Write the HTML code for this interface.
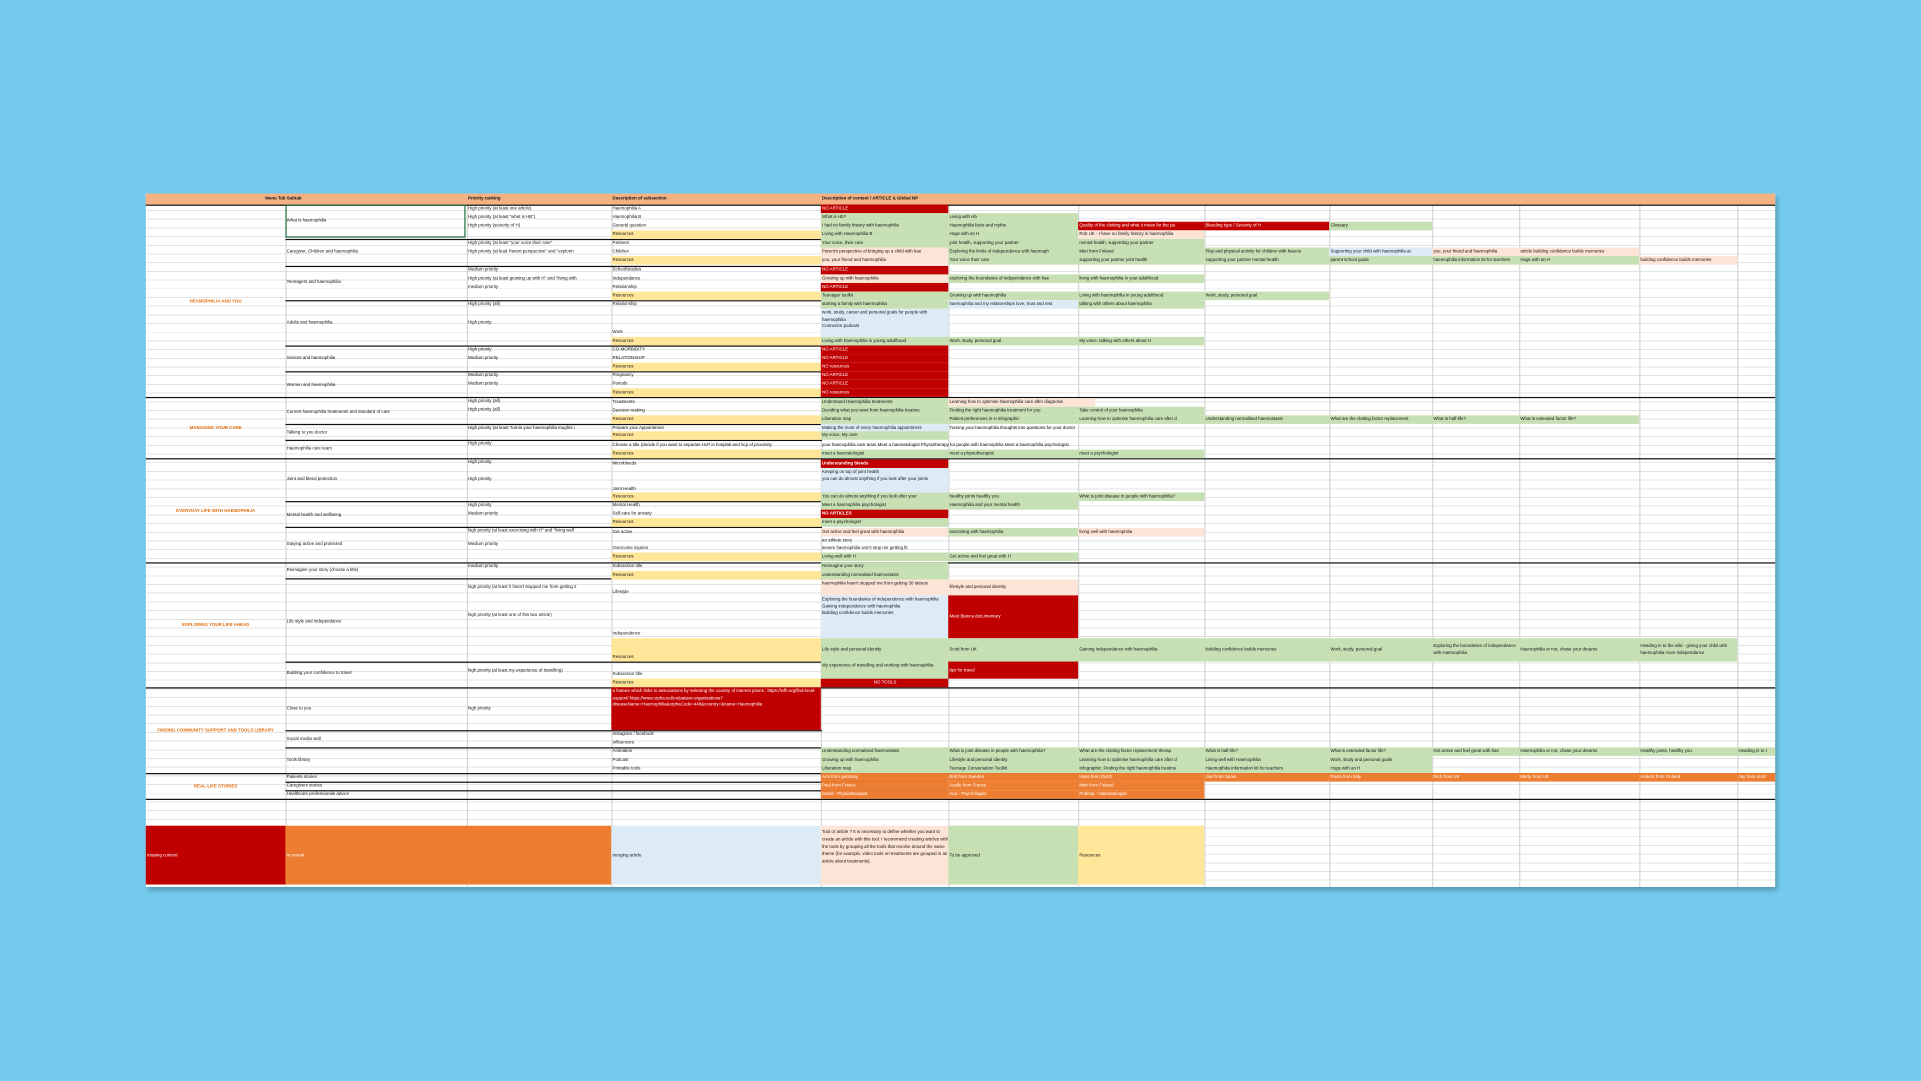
<!DOCTYPE html>
<html><head><meta charset="utf-8"><style>
html,body{margin:0;padding:0;background:#74cbee;width:1921px;height:1081px;overflow:hidden}
#w{position:absolute;left:0;top:0;width:1568px;height:882px;transform:scale(1.2251);transform-origin:0 0}
#sh{position:absolute;left:119px;top:158px;width:1330px;height:566px;background:#fff;box-shadow:2px 3px 4px rgba(0,0,0,.25);
background-image:repeating-linear-gradient(to bottom,transparent 0,transparent 6.3px,#e3e3e3 6.3px,#e3e3e3 7.1px)}
.v{position:absolute;top:158px;height:566px;width:0.6px;background:#d6d6d6}
.c{position:absolute;font-family:"Liberation Sans",sans-serif;font-size:3.6px;line-height:7px;height:7px;overflow:hidden;white-space:nowrap;padding-left:1px;box-sizing:border-box;color:#111}
.A{left:119px;width:114px}.B{left:233px;width:148px}.C{left:381px;width:118px}.D{left:499px;width:171px}
.E{left:670px;width:104px}.F{left:774px;width:106px}.G{left:880px;width:103px}.H{left:983px;width:102px}
.I{left:1085px;width:84px}.J{left:1169px;width:71px}.K{left:1240px;width:98px}.L{left:1338px;width:80px}.M{left:1418px;width:31px}
.r{background:#c00000;color:#fff}.g{background:#c6e0b4}.p{background:#fce4d6}.b{background:#ddebf7}.y{background:#ffe699}.o{background:#ed7d31;color:#fff}
.sec{color:#e26b0a;font-weight:bold;text-align:center;white-space:normal;line-height:6px;display:flex;align-items:center;justify-content:center;padding:0 4px}
.hl{position:absolute;left:119px;width:1330px;height:1.3px;background:#111}
.hb{position:absolute;height:1px;background:#111}
.ml{white-space:normal;line-height:5.6px;padding-top:1px}
</style></head><body><div id="w">
<div id="sh"></div>
<div class="v" style="left:233px"></div><div class="v" style="left:381px"></div><div class="v" style="left:499px"></div><div class="v" style="left:670px"></div><div class="v" style="left:774px"></div><div class="v" style="left:880px"></div><div class="v" style="left:983px"></div><div class="v" style="left:1085px"></div><div class="v" style="left:1169px"></div><div class="v" style="left:1240px"></div><div class="v" style="left:1338px"></div><div class="v" style="left:1418px"></div>

<!-- header -->
<div class="c" style="left:119px;top:158px;width:1330px;height:9px;background:#f4b183"></div>
<div class="c A" style="top:159px;text-align:right;font-weight:bold">Menu Tab</div>
<div class="c B" style="top:159px;font-weight:bold">Subtab</div>
<div class="c C" style="top:159px;font-weight:bold">Priority ranking</div>
<div class="c D" style="top:159px;font-weight:bold">Description of subsection</div>
<div class="c E" style="top:159px;width:200px;font-weight:bold">Description of content / ARTICLE &amp; Global NP</div>
<div class="hl" style="top:166.5px"></div>

<!-- Section A labels -->
<div class="c A sec" style="top:167px;height:157px">HEAMOPHILIA AND YOU</div>
<div class="c A sec" style="top:324px;height:50px">MANAGING YOUR CARE</div>
<div class="c A sec" style="top:374px;height:85px">EVERYDAY LIFE WITH HAEMOPHILIA</div>
<div class="c A sec" style="top:459px;height:102px">EXPLORING YOUR LIFE AHEAD</div>
<div class="c A sec" style="top:561px;height:70px">FINDING COMMUNITY SUPPORT AND TOOLS LIBRARY</div>
<div class="c A sec" style="top:631px;height:21px">REAL-LIFE STORIES</div>
<div class="hl" style="top:324px"></div><div class="hl" style="top:374px"></div><div class="hl" style="top:459px"></div><div class="hl" style="top:561px"></div><div class="hl" style="top:631px"></div><div class="hl" style="top:652px"></div>
<div style="position:absolute;left:233px;top:167px;width:147px;height:27px;border:1.3px solid #217346;box-sizing:border-box"></div>

<!-- Subtabs -->
<div class="c B" style="top:177px">What is haemophilia</div>
<div class="c B" style="top:202px">Caregiver, Children and haemophilia</div>
<div class="c B" style="top:227px">Teenagers and haemophilia</div>
<div class="c B" style="top:260px">Adults and haemophilia</div>
<div class="c B" style="top:289px">Seniors and haemophilia</div>
<div class="c B" style="top:311px">Women and haemophilia</div>
<div class="c B" style="top:333px">Current haemophilia treatments and standard of care</div>
<div class="c B" style="top:350px">Talking to you doctor</div>
<div class="c B" style="top:363px">Haemophilia care team</div>
<div class="c B" style="top:388px">Joint and bleed protection</div>
<div class="c B" style="top:417px">Mental health and wellbeing</div>
<div class="c B" style="top:441px">Staying active and protected</div>
<div class="c B" style="top:462px">Reimagine your story (choose a title)</div>
<div class="c B" style="top:504px">Life style and independance</div>
<div class="c B" style="top:546px">Building your confidence to travel</div>
<div class="c B" style="top:575px">Close to you</div>
<div class="c B" style="top:600px">Social media wall</div>
<div class="c B" style="top:617px">Tools library</div>
<div class="c B" style="top:631px">Patients stories</div>
<div class="c B" style="top:638px">Caregivers stories</div>
<div class="c B" style="top:645px">Healthcare professionals advice</div>
<div class="hb" style="left:233px;width:438px;top:195px"></div><div class="hb" style="left:233px;width:438px;top:217px"></div><div class="hb" style="left:233px;width:438px;top:245px"></div><div class="hb" style="left:233px;width:438px;top:282px"></div><div class="hb" style="left:233px;width:438px;top:303px"></div><div class="hb" style="left:233px;width:438px;top:346px"></div><div class="hb" style="left:233px;width:438px;top:359px"></div><div class="hb" style="left:233px;width:438px;top:409px"></div><div class="hb" style="left:233px;width:438px;top:430px"></div><div class="hb" style="left:233px;width:438px;top:472px"></div><div class="hb" style="left:233px;width:438px;top:540px"></div><div class="hb" style="left:233px;width:438px;top:596px"></div><div class="hb" style="left:233px;width:438px;top:610px"></div><div class="hb" style="left:233px;width:540px;top:638px"></div><div class="hb" style="left:233px;width:540px;top:645px"></div>

<!-- Priority -->
<div class="c C" style="top:167px">High priority (at least one article)</div>
<div class="c C" style="top:174px">High priority (at least "what is HB")</div>
<div class="c C" style="top:181px">High priority (severity of H)</div>
<div class="c C" style="top:195px">High priority (at least "your voice their care"</div>
<div class="c C" style="top:202px">High priority (at lead Parent perspective" and "explorin</div>
<div class="c C" style="top:217px">Medium priority</div>
<div class="c C" style="top:224px">High priority (at least growing up with H" and "living with</div>
<div class="c C" style="top:231px">medium priority</div>
<div class="c C" style="top:245px">High priority (all)</div>
<div class="c C" style="top:260px">High priority</div>
<div class="c C" style="top:282px">High priority</div>
<div class="c C" style="top:289px">Medium priority</div>
<div class="c C" style="top:303px">Medium priority</div>
<div class="c C" style="top:310px">Medium priority</div>
<div class="c C" style="top:324px">High priority (all)</div>
<div class="c C" style="top:331px">High priority (all)</div>
<div class="c C" style="top:346px">High priority (at least "turnin your haemophilia toughts i</div>
<div class="c C" style="top:359px">High priority</div>
<div class="c C" style="top:374px">High priority</div>
<div class="c C" style="top:388px">High priority</div>
<div class="c C" style="top:409px">High priority</div>
<div class="c C" style="top:416px">Medium priority</div>
<div class="c C" style="top:430px">high priority (at least exercising with H" and "living well</div>
<div class="c C" style="top:441px">Medium priority</div>
<div class="c C" style="top:459px">medium priority</div>
<div class="c C" style="top:476px">high priority (at least h hasn't stopped me from getting 2</div>
<div class="c C" style="top:499px">high priority (at least one of this two article)</div>
<div class="c C" style="top:544px">high priority (at least my experience of travelling)</div>
<div class="c C" style="top:575px">high priority</div>

<!-- D column -->
<div class="c D" style="top:167px">Haemophilia A</div>
<div class="c D" style="top:174px">Haemophilia B</div>
<div class="c D" style="top:181px">General question</div>
<div class="c D y" style="top:188px">Resources</div>
<div class="c D" style="top:195px">Partners</div>
<div class="c D" style="top:202px">Children</div>
<div class="c D y" style="top:209px">Resources</div>
<div class="c D" style="top:217px">School/studies</div>
<div class="c D" style="top:224px">Independance</div>
<div class="c D" style="top:231px">Relationship</div>
<div class="c D y" style="top:238px">Resources</div>
<div class="c D" style="top:245px">Relationship</div>
<div class="c D" style="top:268px">Work</div>
<div class="c D y" style="top:275px">Resources</div>
<div class="c D" style="top:282px">CO-MORBIDITY</div>
<div class="c D" style="top:289px">RELATIONSHIP</div>
<div class="c D y" style="top:296px">Resources</div>
<div class="c D" style="top:303px">Pregnancy</div>
<div class="c D" style="top:310px">Periods</div>
<div class="c D y" style="top:317px">Resources</div>
<div class="c D" style="top:325px">Treatments</div>
<div class="c D" style="top:332px">Decision making</div>
<div class="c D y" style="top:339px">Resources</div>
<div class="c D" style="top:346px">Prepare your Appointment</div>
<div class="c D y" style="top:352px">Resources</div>
<div class="c D" style="top:360px">Choose a title (decide if you want to separate HcP in hospital and hcp of proximity</div>
<div class="c D y" style="top:367px">Resources</div>
<div class="c D" style="top:375px">Microbleeds</div>
<div class="c D" style="top:396px">Joint Health</div>
<div class="c D y" style="top:402px">Resources</div>
<div class="c D" style="top:409px">Mental Health</div>
<div class="c D" style="top:416px">Self-care for anxiety</div>
<div class="c D y" style="top:423px">Resources</div>
<div class="c D" style="top:431px">Get active</div>
<div class="c D" style="top:444px">Overcome injuries</div>
<div class="c D y" style="top:451px">Resources</div>
<div class="c D" style="top:459px">Subsection title</div>
<div class="c D y" style="top:466px">Resources</div>
<div class="c D" style="top:480px">Lifestyle</div>
<div class="c D" style="top:514px">Independence</div>
<div class="c D y" style="top:521px;height:19px;line-height:31px">Resources</div>
<div class="c D" style="top:547px">Subsection title</div>
<div class="c D y" style="top:554px">Resources</div>
<div class="c D r ml" style="top:561px;height:35px">a feature which links to associations by selecting the country of interest ptions : https://wfh.org/find-local-support/ https://www.orpha.net/en/patient-organisations?diseaseName=Haemophilia&amp;orphaCode=448&amp;country=&amp;name=Haemophilia</div>
<div class="c D" style="top:596px">Instagram / facebook</div>
<div class="c D" style="top:603px">Influencers</div>
<div class="c D" style="top:610px">Animation</div>
<div class="c D" style="top:617px">Podcast</div>
<div class="c D" style="top:624px">Printable tools</div>

<!-- E..M rows -->
<div class="c E r" style="top:167px">NO ARTICLE</div>
<div class="c E g" style="top:174px">What is Hb?</div><div class="c F g" style="top:174px">Living with Hb</div>
<div class="c E g" style="top:181px">I had no family history with haemophilia</div><div class="c F g" style="top:181px">Haemophilia facts and myths</div><div class="c G r" style="top:181px">Quality of the clotting and what it mean for the pa</div><div class="c H r" style="top:181px">Bleeding type / Severity of H</div><div class="c I g" style="top:181px">Glossary</div>
<div class="c E g" style="top:188px">Living with Haemophilia B</div><div class="c F g" style="top:188px">Hugs with an H</div><div class="c G p" style="top:188px">Rob UK - I have no family history in haemophilia</div>
<div class="c E g" style="top:195px">Your voice, their care</div><div class="c F g" style="top:195px">joint health, supporting your partner</div><div class="c G g" style="top:195px">mental health, supporting your partner</div>
<div class="c E p" style="top:202px">Parent's perspective of bringing up a child with hae</div><div class="c F g" style="top:202px">Exploring the limits of independence with haemoph</div><div class="c G g" style="top:202px">Meri from Finland</div><div class="c H g" style="top:202px">Play and physical activity for children with haemo</div><div class="c I b" style="top:202px">Supporting your child with haemophilia at</div><div class="c J p" style="top:202px">you, your friend and haemophilia</div><div class="c K p" style="top:202px">article building confidence builds memories</div>
<div class="c E p" style="top:209px">you, your friend and haemophilia</div><div class="c F g" style="top:209px">Your voice their care</div><div class="c G g" style="top:209px">supporting your partner joint health</div><div class="c H g" style="top:209px">supporting your partner mental health</div><div class="c I g" style="top:209px">parent school guide</div><div class="c J g" style="top:209px">haemophilia information kit for teachers</div><div class="c K g" style="top:209px">Hugs with an H</div><div class="c L p" style="top:209px">building confidence builds memories</div>
<div class="c E r" style="top:217px">NO ARTICLE</div>
<div class="c E p" style="top:224px">Growing up with haemophilia</div><div class="c F g" style="top:224px">exploring the boundaries of independance with hae</div><div class="c G g" style="top:224px">living with haemophilia in your adulthood</div>
<div class="c E r" style="top:231px">NO ARTICLE</div>
<div class="c E g" style="top:238px">Teenager toolkit</div><div class="c F g" style="top:238px">Growing up with haemophilia</div><div class="c G g" style="top:238px">Living with haemophilia in young adulthood</div><div class="c H g" style="top:238px">Work, study, personal goal</div>
<div class="c E g" style="top:245px">starting a family with haemophilia</div><div class="c F b" style="top:245px">haemophilia and my relationships love, trust and rest</div><div class="c G g" style="top:245px">talking with others about haemophilia</div>
<div class="c E b ml" style="top:252px;height:23px">work, study, career and personal goals for people with haemophilia<br>Connector podcast</div>
<div class="c E g" style="top:275px">Living with haemophilia in young adulthood</div><div class="c F g" style="top:275px">Work, study, personal goal</div><div class="c G g" style="top:275px">My voice, talking with others about H</div>
<div class="c E r" style="top:282px">NO ARTICLE</div><div class="c E r" style="top:289px">NO ARTICLE</div><div class="c E r" style="top:296px">NO resources</div><div class="c E r" style="top:303px">NO ARTICLE</div><div class="c E r" style="top:310px">NO ARTICLE</div><div class="c E r" style="top:317px">NO resources</div>
<div class="c E g" style="top:325px">Understand Haemophilia treatments</div><div class="c F p" style="top:325px;width:120px">Learning how to optimise haemophilia care after diagnosis</div>
<div class="c E g" style="top:332px">Deciding what you want from haemophilia treatme</div><div class="c F g" style="top:332px">Finding the right haemophilia treatment for you</div><div class="c G g" style="top:332px">Take control of your haemophilia</div>
<div class="c E g" style="top:339px">Liberation map</div><div class="c F g" style="top:339px">Patient preferences in H infographic</div><div class="c G g" style="top:339px">Learning how to optimise haemophilia care after d</div><div class="c H g" style="top:339px">Understanding normalised haemostasis</div><div class="c I g" style="top:339px">What are the clotting factor replacement</div><div class="c J g" style="top:339px">What is half-life?</div><div class="c K g" style="top:339px">What is extended factor life?</div>
<div class="c E b" style="top:346px">Making the most of every haemophilia appointment</div><div class="c F" style="top:346px;width:200px">Turning your haemophilia thoughts into questions for your doctor</div>
<div class="c E g" style="top:352px">My voice, My care</div>
<div class="c E" style="top:360px;width:320px">your haemophilia care team Meet a haematologist Physiotherapy for people with haemophilia Meet a haemophilia psychologist</div>
<div class="c E g" style="top:367px">meet a haematologist</div><div class="c F g" style="top:367px">meet a physiotherapist</div><div class="c G g" style="top:367px">meet a psychologist</div>
<div class="c E r" style="top:375px;font-weight:bold">Understanding bleeds</div>
<div class="c E b ml" style="top:382px;height:20px">Keeping on top of joint health<br>you can do almost anything if you look after your joints</div>
<div class="c E g" style="top:402px">You can do almost anything if you look after your</div><div class="c F g" style="top:402px">healthy joints healthy you</div><div class="c G g" style="top:402px">What is joint disease in people with haemophilia?</div>
<div class="c E g" style="top:409px">Meet a haemophilia psychologist</div><div class="c F g" style="top:409px">Haemophilia and your mental health</div>
<div class="c E r" style="top:416px;font-weight:bold">NO ARTICLES</div>
<div class="c E g" style="top:423px">meet a psychologist</div>
<div class="c E p" style="top:431px">Get active and feel great with haemophilia</div><div class="c F g" style="top:431px">exercising with haemophilia</div><div class="c G p" style="top:431px">living well with haemophilia</div>
<div class="c E ml" style="top:438px;height:13px;font-weight:normal">an athlete story<br>severe haemophilia won't stop me getting fit</div>
<div class="c E g" style="top:451px">Living well with H</div><div class="c F g" style="top:451px">Get active and feel great with H</div>
<div class="c E g" style="top:459px">Reimagine your story</div>
<div class="c E g" style="top:466px">understanding normalised haemostasis</div>
<div class="c E p ml" style="top:473px;height:13px">haemophilia hasn't stopped me from getting 30 tattoos</div><div class="c F p" style="top:473px;height:13px;line-height:13px">lifestyle and personal identity</div>
<div class="c E b ml" style="top:486px;height:35px">Exploring the boundaries of independence with haemophilia<br>Gaining independence with haemophilia<br>Building confidence builds memories</div><div class="c F r" style="top:486px;height:35px;line-height:35px">Meet Bianca documentary</div>
<div class="c E g" style="top:521px;height:19px;line-height:19px">Life style and personal identity</div><div class="c F g" style="top:521px;height:19px;line-height:19px">Scott from UK</div><div class="c G g" style="top:521px;height:19px;line-height:19px">Gaining independance with haemophilia</div><div class="c H g" style="top:521px;height:19px;line-height:19px">building confidence builds memories</div><div class="c I g" style="top:521px;height:19px;line-height:19px">Work, study, personal goal</div><div class="c J g ml" style="top:521px;height:19px;padding-top:4px">Exploring the boundaries of independance with Haemophilia</div><div class="c K g" style="top:521px;height:19px;line-height:19px">Haemophilia or not, chase your dreams</div><div class="c L g ml" style="top:521px;height:19px;padding-top:4px">Heading in to the wild - giving your child with haemophilia more independance</div>
<div class="c E g ml" style="top:540px;height:14px">My experience of travelling and working with haemophilia</div><div class="c F r" style="top:540px;height:14px;line-height:14px">tips for travel</div>
<div class="c E r" style="top:554px;text-align:center">NO TOOLS</div>
<div class="c E g" style="top:610px">Understanding normalised haemostasis</div><div class="c F g" style="top:610px">What is joint disease in people with haemophilia?</div><div class="c G g" style="top:610px">What are the clotting factor replacement therap</div><div class="c H g" style="top:610px">What is half-life?</div><div class="c I g" style="top:610px">What is extended factor life?</div><div class="c J g" style="top:610px">Get active and feel great with hae</div><div class="c K g" style="top:610px">Haemophilia or not, chase your dreams</div><div class="c L g" style="top:610px">Healthy joints, healthy you</div><div class="c M g" style="top:610px">Heading in to t</div>
<div class="c E g" style="top:617px">Growing up with haemophilia</div><div class="c F g" style="top:617px">Lifestyle and personal identity</div><div class="c G g" style="top:617px">Learning how to optimise haemophilia care after d</div><div class="c H g" style="top:617px">Living well with Haemophilia</div><div class="c I g" style="top:617px">Work, study and personal goals</div>
<div class="c E g" style="top:624px">Liberation map</div><div class="c F g" style="top:624px">Teenage Conversation Toolkit</div><div class="c G g" style="top:624px">Infographic: Finding the right haemophilia treatme</div><div class="c H g" style="top:624px">Haemophilia information kit for teachers</div><div class="c I g" style="top:624px">Hugs with an H</div>
<div class="c E o" style="top:631px">Arni from germany</div><div class="c F o" style="top:631px">Erik from Sweden</div><div class="c G o" style="top:631px">Hans from Dutch</div><div class="c H o" style="top:631px">Joel from Spain</div><div class="c I o" style="top:631px">Paola from Italy</div><div class="c J o" style="top:631px">Rich from UK</div><div class="c K o" style="top:631px">Marty from US</div><div class="c L o" style="top:631px">Anders from Finland</div><div class="c M o" style="top:631px">Jay from scotl</div>
<div class="c E o" style="top:638px">Paul from France</div><div class="c F o" style="top:638px">Axelle from France</div><div class="c G o" style="top:638px">Meri from Finland</div>
<div class="c E o" style="top:645px">David - Physiotherapist</div><div class="c F o" style="top:645px">Ana - Psychologist</div><div class="c G o" style="top:645px">Pratima - Haematologist</div>

<!-- legend -->
<div class="c r" style="left:119px;width:114px;top:674px;height:48px;line-height:48px">missing content</div>
<div class="c o" style="left:233px;width:266px;top:674px;height:48px;line-height:48px">in rework</div>
<div class="c b" style="left:499px;width:171px;top:674px;height:48px;line-height:48px">merging article</div>
<div class="c E p ml" style="top:674px;height:48px;line-height:6px;padding-top:2px">Tool or article ? It is necessary to define whether you want to create an article with this tool. I recommend creating articles with the tools by grouping all the tools that revolve around the same theme (for example, video tools on treatments are grouped in an article about treatments).</div>
<div class="c F g" style="top:674px;height:48px;line-height:48px">To be approved</div>
<div class="c G y" style="top:674px;height:48px;line-height:48px">Resources</div>
</div></body></html>
